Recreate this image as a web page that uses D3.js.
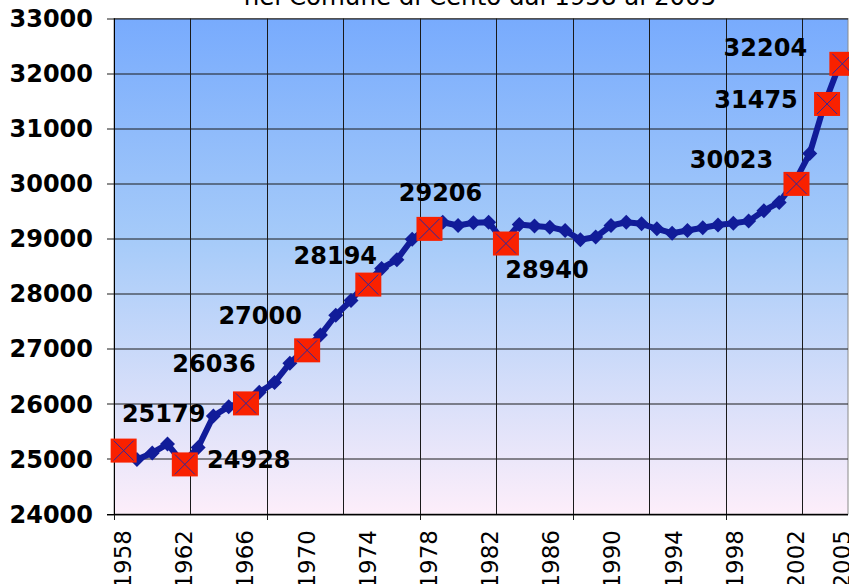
<!DOCTYPE html>
<html>
<head>
<meta charset="utf-8">
<script src="https://cdn.jsdelivr.net/npm/d3@7"></script>
<style>
  body { margin: 0; background: #fff; }
  svg { display: block; font-family: "DejaVu Sans", Verdana, sans-serif; }
</style>
</head>
<body>
<div id="chart"></div>
<script>
// popolazione residente, Cento 1958-2005
var years = d3.range(1958, 2006);
var population = [
  25179, 24990, 25110, 25270, 24928, 25210, 25780, 25950, 26036, 26210,
  26390, 26740, 27000, 27250, 27610, 27880, 28194, 28460, 28620, 28990,
  29206, 29300, 29240, 29290, 29300, 28940, 29260, 29230, 29210, 29150,
  28980, 29030, 29240, 29300, 29270, 29180, 29100, 29150, 29200, 29250,
  29280, 29320, 29510, 29660, 30023, 30550, 31475, 32204
];
var highlightYears = [1958, 1962, 1966, 1970, 1974, 1978, 1983, 2002, 2004, 2005];
var yTicks = [24000, 25000, 26000, 27000, 28000, 29000, 30000, 31000, 32000, 33000];
var xLabelYears = [1958, 1962, 1966, 1970, 1974, 1978, 1982, 1986, 1990, 1994, 1998, 2002, 2005];
var titleText = "nel Comune di Cento dal 1958 al 2005";

var svgWidth = 849;
var svgHeight = 584;
var margin = { top: 18.5, right: 1, bottom: 70, left: 114 };
var chartWidth = svgWidth - margin.left - margin.right;
var chartHeight = 514 - margin.top;

var svg = d3.select("#chart")
  .append("svg")
  .attr("width", svgWidth)
  .attr("height", svgHeight);

var defs = svg.append("defs");
var grad = defs.append("linearGradient")
  .attr("id", "bg")
  .attr("x1", 0).attr("y1", 0).attr("x2", 0).attr("y2", 1);
grad.append("stop").attr("offset", "0%").attr("stop-color", "#78abfd");
grad.append("stop").attr("offset", "45%").attr("stop-color", "#a6cbf9");
grad.append("stop").attr("offset", "100%").attr("stop-color", "#fdeefa");

var g = svg.append("g")
  .attr("transform", `translate(${margin.left}, ${margin.top})`);

var data = years.map((y, i) => ({ year: y, value: population[i] }));

var xScale = d3.scaleBand()
  .domain(years)
  .range([0, chartWidth]);

var yScale = d3.scaleLinear()
  .domain([24000, 33000])
  .range([chartHeight, 0]);

var step = xScale.step();

// plot background
g.append("rect")
  .attr("width", chartWidth)
  .attr("height", chartHeight)
  .attr("fill", "url(#bg)")
  .attr("stroke", "#8a8a8a")
  .attr("stroke-width", 1);

// horizontal grid + left ticks
g.selectAll(".hgrid")
  .data(yTicks)
  .enter()
  .append("line")
  .attr("x1", -7)
  .attr("x2", chartWidth)
  .attr("y1", d => Math.round(yScale(d)) + 0.5)
  .attr("y2", d => Math.round(yScale(d)) + 0.5)
  .attr("stroke", "#1a1a1a")
  .attr("stroke-width", 1);

// vertical grid every 5 years, tick below every 10
var vgrid = years.filter((y, i) => i % 5 === 0);
g.selectAll(".vgrid")
  .data(vgrid)
  .enter()
  .append("line")
  .attr("x1", d => Math.round(xScale(d)) + 0.5)
  .attr("x2", d => Math.round(xScale(d)) + 0.5)
  .attr("y1", 0)
  .attr("y2", d => (years.indexOf(d) % 10 === 0) ? chartHeight + 6 : chartHeight)
  .attr("stroke", "#1a1a1a")
  .attr("stroke-width", 1);

// axis lines
g.append("line")
  .attr("x1", 0.5).attr("x2", 0.5)
  .attr("y1", 0).attr("y2", chartHeight)
  .attr("stroke", "#000");
g.append("line")
  .attr("x1", -7).attr("x2", chartWidth)
  .attr("y1", chartHeight + 0.5).attr("y2", chartHeight + 0.5)
  .attr("stroke", "#000");

// y labels
g.selectAll(".ylab")
  .data(yTicks)
  .enter()
  .append("text")
  .attr("x", -21)
  .attr("y", d => yScale(d))
  .attr("dy", "0.36em")
  .attr("text-anchor", "end")
  .attr("font-size", 24)
  .attr("font-weight", "bold")
  .attr("fill", "#000")
  .text(d => d);

// x labels, rotated
g.selectAll(".xlab")
  .data(xLabelYears)
  .enter()
  .append("text")
  .attr("transform", d => `translate(${xScale(d) + step / 2 + 9.5}, ${chartHeight + 16}) rotate(-90)`)
  .attr("text-anchor", "end")
  .attr("font-size", 23)
  .attr("fill", "#000")
  .text(d => d);

// line
var line = d3.line()
  .x(d => xScale(d.year) + step / 2)
  .y(d => yScale(d.value));

g.append("path")
  .datum(data)
  .attr("fill", "none")
  .attr("stroke", "#111c99")
  .attr("stroke-width", 6)
  .attr("stroke-linejoin", "round")
  .attr("d", line);

// diamonds
g.selectAll(".diamond")
  .data(data)
  .enter()
  .append("path")
  .attr("transform", d => `translate(${xScale(d.year) + step / 2}, ${yScale(d.value)})`)
  .attr("d", "M0,-7.5L7.5,0L0,7.5L-7.5,0Z")
  .attr("fill", "#111c99");

// highlighted points
var hl = data.filter(d => highlightYears.indexOf(d.year) >= 0);
var marks = g.selectAll(".hl")
  .data(hl)
  .enter()
  .append("g")
  .attr("transform", d => `translate(${xScale(d.year) + step / 2 + 2}, ${yScale(d.value) + 1.5})`);

marks.append("rect")
  .attr("x", -13).attr("y", -12)
  .attr("width", 26).attr("height", 24)
  .attr("fill", "#f92100");
marks.append("path")
  .attr("d", "M-10,-10L10,10M-10,10L10,-10")
  .attr("stroke", "#2a2aa0")
  .attr("stroke-width", 1);

// value labels (offset from the marker)
var labelOffset = {
  1958: [40, -29], 1962: [64, 4], 1966: [-32, -31], 1970: [-47, -26],
  1974: [-33, -21], 1978: [11, -28], 1983: [41, 34], 2002: [-65, -16],
  2004: [-71, 4], 2005: [-77, -8]
};
marks.append("text")
  .attr("x", d => labelOffset[d.year][0])
  .attr("y", d => labelOffset[d.year][1])
  .attr("text-anchor", "middle")
  .attr("font-size", 24)
  .attr("font-weight", "bold")
  .attr("fill", "#000")
  .text(d => d.value);

// title (second line, partly cut at the top)
svg.append("text")
  .attr("x", 480)
  .attr("y", 5)
  .attr("text-anchor", "middle")
  .attr("font-size", 24.5)
  .attr("fill", "#000")
  .text(titleText);
</script>
</body>
</html>
